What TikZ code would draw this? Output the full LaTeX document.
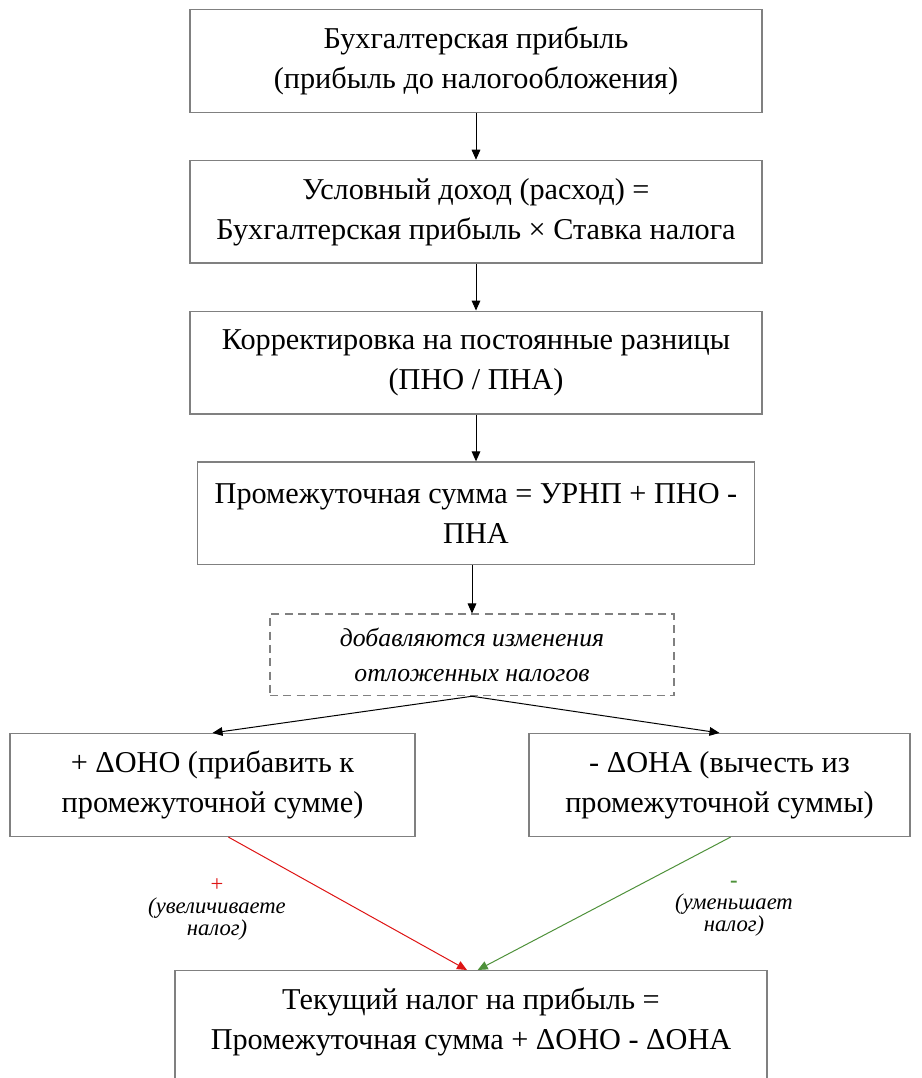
\documentclass[tikz,border=0pt]{standalone}
\usepackage{fontspec}
\setmainfont{Liberation Serif}
\usepackage{tikz}
\usetikzlibrary{arrows.meta, positioning}
\definecolor{boxgray}{RGB}{128,128,128}
\definecolor{plusred}{RGB}{222,20,20}
\definecolor{minusgreen}{RGB}{78,145,58}

\begin{document}
\begin{tikzpicture}[x=0.75pt, y=-0.75pt,
    >={Triangle[length=7.5pt, width=6.5pt]},
    box/.style={draw=boxgray, line width=1.1pt, align=center, minimum height=77pt,
        font=\fontsize{22.7}{30}\selectfont},
    dashbox/.style={draw=boxgray, line width=1.1pt, dash pattern=on 6pt off 4pt,
        align=center, minimum width=303pt, minimum height=61pt,
        font=\itshape\fontsize{19.3}{26}\selectfont},
    sign/.style={align=center, font=\itshape\fontsize{17}{16.5}\selectfont},
    link/.style={->, line width=0.75pt}]
    \clip (0,0) rectangle (921,1078);

    % Основная цепочка расчёта
    \node[box, minimum width=429pt] at (476,61) (profit)
        {Бухгалтерская прибыль\\(прибыль до налогообложения)};
    \node[box, minimum width=429pt, below=35pt of profit] (cond)
        {Условный доход (расход) =\\Бухгалтерская прибыль × Ставка налога};
    \node[box, minimum width=429pt, below=35pt of cond] (perm)
        {Корректировка на постоянные разницы\\(ПНО / ПНА)};
    \node[box, minimum width=418pt, below=35pt of perm] (interim)
        {Промежуточная сумма = УРНП + ПНО -\\ПНА};

    % Отложенные налоги
    \node[dashbox, below=36pt of interim, xshift=-3pt] (deferred)
        {добавляются изменения\\отложенных налогов};
    \node[box, minimum width=304pt] at (212.5,785) (dono)
        {+ ΔОНО (прибавить к\\промежуточной сумме)};
    \node[box, minimum width=286pt] at (719.5,785) (dona)
        {- ΔОНА (вычесть из\\промежуточной суммы)};

    % Итог (нижняя часть обрезана)
    \node[box, minimum width=444pt, inner ysep=13pt, anchor=north] at (471,970) (total)
        {Текущий налог на прибыль =\\Промежуточная сумма + ΔОНО - ΔОНА\\\strut};

    % Стрелки
    \draw[link] (profit) -- (cond);
    \draw[link] (cond) -- (perm);
    \draw[link] (perm) -- (interim);
    \draw[link] (deferred.north |- interim.south) -- (deferred.north);
    \draw[link] (deferred.south) -- (dono.north);
    \draw[link] (deferred.south) -- (dona.north);
    \draw[->, plusred, line width=0.75pt] (dono.-73) -- ([xshift=-3pt]total.north);
    \draw[->, minusgreen, line width=0.75pt] (dona.-78) -- ([xshift=5pt]total.north);

    % Подписи
    \node[sign] at (217,909) (incr) {\textcolor{plusred}{\upshape +}\\(увеличиваете\\налог)};
    \node[sign] at (734,909) (decr) {\textcolor{minusgreen}{\upshape\bfseries -}\\(уменьшает\\налог)};
\end{tikzpicture}
\end{document}
